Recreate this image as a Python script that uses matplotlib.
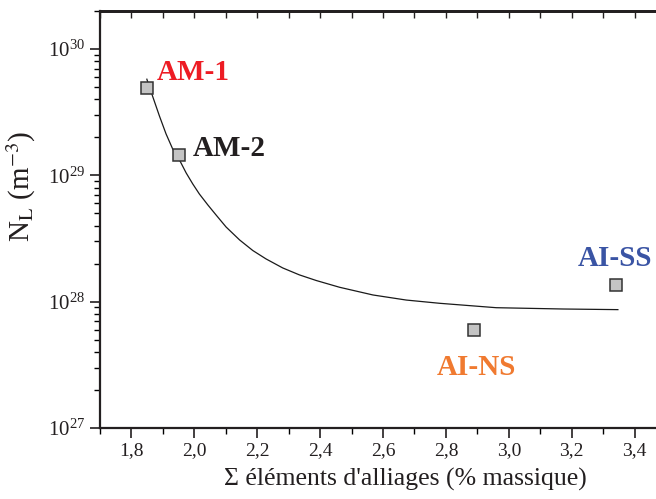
import matplotlib
matplotlib.use('Agg')
import matplotlib.pyplot as plt
from matplotlib.ticker import MultipleLocator, LogLocator, FixedLocator, NullFormatter
import numpy as np

plt.rcParams['font.family'] = ['Liberation Serif', 'DejaVu Serif']
plt.rcParams['mathtext.fontset'] = 'stix'

# samples (sum of alloying elements, line density)
names = ['AM-1', 'AM-2', 'AI-NS', 'AI-SS']
alloy = [1.85, 1.95, 2.89, 3.34]
nl = [4.9e29, 1.45e29, 6.0e27, 1.36e28]
label_colors = ['#ED1C24', '#231F20', '#F07A30', '#3A54A4']
label_pos = [(1.88, 5.7e29), (1.994, 1.43e29), (2.77, 2.63e27), (3.219, 1.92e28)]

# fitted curve
fit_x = [1.849, 1.868, 1.889, 1.910, 1.931, 1.953, 1.974, 1.995, 2.016,
         2.043, 2.069, 2.101, 2.144, 2.186, 2.228, 2.281, 2.334, 2.388,
         2.462, 2.568, 2.674, 2.780, 2.960, 3.172, 3.347]
fit_y = [5.77e29, 4.18e29, 2.95e29, 2.13e29, 1.62e29, 1.32e29, 1.045e29,
         8.55e28, 7.12e28, 5.83e28, 4.86e28, 3.90e28, 3.08e28, 2.54e28,
         2.18e28, 1.85e28, 1.63e28, 1.47e28, 1.30e28, 1.13e28, 1.03e28,
         9.71e27, 8.96e27, 8.75e27, 8.65e27]

xticks = [1.8, 2.0, 2.2, 2.4, 2.6, 2.8, 3.0, 3.2, 3.4]
xticklabels = ['1,8', '2,0', '2,2', '2,4', '2,6', '2,8', '3,0', '3,2', '3,4']

fig = plt.figure(figsize=(6.56, 4.99), dpi=100)
ax = fig.add_axes([100/656, 71/499, 566/656, 417/499])

ax.plot(fit_x, fit_y, c='#1a1a1a', lw=0.9, solid_joinstyle='round')
ax.plot(alloy, nl, ls='none', marker='s', ms=9, mfc='#c4c4c4',
        mec='#333333', mew=1.1)

for n, (tx, ty), col in zip(names, label_pos, label_colors):
    ax.text(tx, ty, n, color=col, fontsize=21, fontweight='bold', va='baseline')

ax.set_yscale('log')
ax.set_xlim(1.7, 3.5)
ax.set_ylim(1e27, 2e30)

ax.xaxis.set_major_locator(FixedLocator(xticks))
ax.set_xticklabels(xticklabels)
ax.xaxis.set_minor_locator(MultipleLocator(0.1))
ax.yaxis.set_major_locator(LogLocator(base=10, numticks=10))
ax.yaxis.set_minor_locator(LogLocator(base=10, subs=np.arange(2, 10), numticks=20))
ax.yaxis.set_minor_formatter(NullFormatter())

ax.tick_params(axis='both', which='major', direction='out', length=7,
               width=1.2, colors='#231F20')
ax.tick_params(axis='both', which='minor', direction='out', length=4, width=1.0)
ax.tick_params(axis='x', labelsize=14)
ax.tick_params(axis='y', labelsize=15)

# top axis: inward ticks, no labels
top = ax.secondary_xaxis('top')
top.xaxis.set_major_locator(MultipleLocator(0.1))
top.tick_params(direction='in', length=5, width=1.0, labeltop=False,
                colors='#231F20')
top.spines['top'].set_linewidth(2.0)
top.spines['top'].set_color('#231F20')

for s in ax.spines.values():
    s.set_linewidth(1.6)
    s.set_color('#231F20')
ax.spines['top'].set_linewidth(2.0)

ax.set_xlabel("Σ éléments d'alliages (% massique)", fontsize=18.5, color='#231F20')
ax.xaxis.set_label_coords(0.539, -0.096)
ax.set_ylabel(r'N$_\mathrm{L}$ (m$^{-3}$)', fontsize=21, color='#231F20')
ax.yaxis.set_label_coords(-0.11, 0.58)

fig.savefig('out.png', dpi=100)
